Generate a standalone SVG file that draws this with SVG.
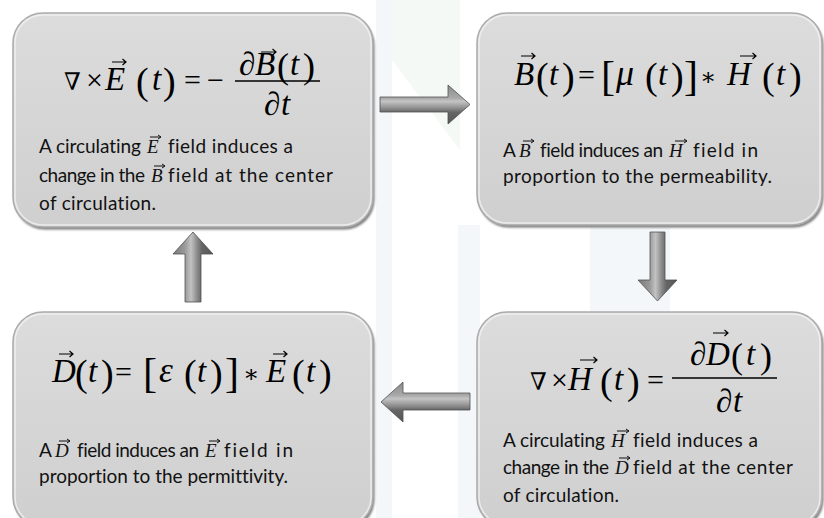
<svg xmlns="http://www.w3.org/2000/svg" width="824" height="518" viewBox="0 0 824 518">
<defs>
<linearGradient id="boxFill" x1="0" y1="0" x2="0" y2="1"><stop offset="0" stop-color="#dcdcdc"/><stop offset="1" stop-color="#cfcfcf"/></linearGradient>
<linearGradient id="arrH" x1="0" y1="0" x2="0" y2="1"><stop offset="0" stop-color="#8a8a8a"/><stop offset="0.33" stop-color="#a8a8a8"/><stop offset="0.42" stop-color="#c4c4c4"/><stop offset="0.6" stop-color="#8c8c8c"/><stop offset="0.7" stop-color="#666"/><stop offset="1" stop-color="#555"/></linearGradient>
<linearGradient id="arrV" x1="0" y1="0" x2="1" y2="0"><stop offset="0" stop-color="#7a7a7a"/><stop offset="0.3" stop-color="#9a9a9a"/><stop offset="0.45" stop-color="#c2c2c2"/><stop offset="0.6" stop-color="#8c8c8c"/><stop offset="0.72" stop-color="#666"/><stop offset="1" stop-color="#555"/></linearGradient>
<filter id="sh" x="-5%" y="-5%" width="110%" height="115%"><feGaussianBlur stdDeviation="1.3"/></filter>
</defs>
<style>
.box{fill:url(#boxFill);stroke:#ababab;stroke-width:1.5}
.shadow{fill:#7b7b7b;filter:url(#sh)}
.hl{fill:none;stroke:#f6f6f6;stroke-width:1.5;opacity:.7}
.eq{font-family:"Liberation Serif","DejaVu Serif",serif;font-size:33px;fill:#000}
.i{font-style:italic}
.sym{font-family:"DejaVu Serif",serif}
.body{font-family:Lato,"Liberation Sans",sans-serif;font-size:19px;fill:#111;font-variant-ligatures:none}
.v{font-family:"Liberation Serif",serif;font-style:italic;font-size:19px;fill:#111}
.vec{fill:none;stroke:#000;stroke-width:1.2}
.vs{fill:none;stroke:#111;stroke-width:1}
.frac{stroke:#000;stroke-width:1.4}
.ah{fill:url(#arrH);stroke:#505050;stroke-width:0.8}
.av{fill:url(#arrV);stroke:#505050;stroke-width:0.8}
.bg{fill:#f4f7f9}
.bg2{fill:#f4f9f6}
</style>
<g id="background">
<rect width="824" height="518" fill="#ffffff"/>
<rect class="bg" x="376" y="0" width="16" height="518"/>
<rect class="bg" x="458" y="225" width="22" height="293"/>
<rect class="bg" x="590" y="225" width="80" height="90"/>
<polygon class="bg2" points="392,0 460,0 460,150 392,60"/>
</g>
<g id="connectors">
<path class="ah" d="M380,97 H448 V85 L470,104.5 L448,124 V112 H380 Z"/>
<path class="av" d="M650,232 H665 V280 H677 L657.5,301 L638,280 H650 Z"/>
<path class="ah" d="M470,393 V410 H403 V422 L381,402 L403,382 V393 Z"/>
<path class="av" d="M185,302 V254 H173 L193,232 L213,254 H201 V302 Z"/>
</g>
<g id="node-faraday">
<rect class="shadow" x="14.5" y="15.5" width="360" height="214" rx="30"/>
<rect class="box" x="13" y="13" width="360" height="214" rx="30"/>
<rect class="hl" x="15" y="15" width="356" height="210" rx="28"/>
<text class="eq">
<tspan class="sym" x="64" y="90" font-size="24">∇</tspan>
<tspan x="86" y="90" font-size="30">×</tspan>
<tspan class="i" x="105" y="90">E</tspan>
<tspan x="136" y="94" font-size="38">(</tspan>
<tspan class="i" x="152" y="90">t</tspan>
<tspan x="163" y="94" font-size="38">)</tspan>
<tspan x="184" y="90" font-size="30">=</tspan>
<tspan x="207" y="90" font-size="30">−</tspan>
<tspan x="239" y="75">∂</tspan>
<tspan class="i" x="255" y="75">B</tspan>
<tspan x="277" y="78" font-size="36">(</tspan>
<tspan class="i" x="290" y="75">t</tspan>
<tspan x="303" y="78" font-size="36">)</tspan>
<tspan x="264" y="115">∂</tspan>
<tspan class="i" x="281" y="115">t</tspan>
</text>
<line class="frac" x1="235" y1="81" x2="320" y2="81"/>
<path class="vec" d="M112 62H126M122.5 59L126 62L122.5 65"/>
<path class="vec" d="M261 52H276M272.5 49L276 52L272.5 55"/>
<text class="body" x="39" y="153" textLength="102">A circulating</text>
<text class="v" x="147" y="153">E</text>
<text class="body" x="168" y="153" textLength="125">field induces a</text>
<path class="vs" d="M150 137H161M158 135L161 137L158 139"/>
<text class="body" x="39" y="182" textLength="106">change in the</text>
<text class="v" x="151" y="182">B</text>
<text class="body" x="168" y="182" textLength="165">field at the center</text>
<path class="vs" d="M154 166H165M162 164L165 166L162 168"/>
<text class="body" x="39" y="210" textLength="117">of circulation.</text>
</g>
<g id="node-permeability">
<rect class="shadow" x="478.5" y="15.5" width="345" height="212" rx="30"/>
<rect class="box" x="477" y="13" width="345" height="212" rx="30"/>
<rect class="hl" x="479" y="15" width="341" height="208" rx="28"/>
<text class="eq">
<tspan class="i" x="514" y="85">B</tspan>
<tspan x="536" y="89" font-size="38">(</tspan>
<tspan class="i" x="549" y="85">t</tspan>
<tspan x="562" y="89" font-size="38">)</tspan>
<tspan x="578" y="85" font-size="30">=</tspan>
<tspan x="601" y="90" font-size="42">[</tspan>
<tspan class="i" x="616" y="85" font-size="36">μ</tspan>
<tspan x="645" y="89" font-size="38">(</tspan>
<tspan class="i" x="658" y="85">t</tspan>
<tspan x="671" y="89" font-size="38">)</tspan>
<tspan x="684" y="90" font-size="42">]</tspan>
<tspan class="sym" x="700" y="85" font-size="24">∗</tspan>
<tspan class="i" x="727" y="85">H</tspan>
<tspan x="762" y="89" font-size="38">(</tspan>
<tspan class="i" x="776" y="85">t</tspan>
<tspan x="789" y="89" font-size="38">)</tspan>
</text>
<path class="vec" d="M521 56H535M531.5 53L535 56L531.5 59"/>
<path class="vec" d="M740 56H756M752.5 53L756 56L752.5 59"/>
<text class="body" x="503" y="157">A</text>
<text class="v" x="519" y="157">B</text>
<path class="vs" d="M523 141H534M531 139L534 141L531 143"/>
<text class="body" x="540" y="157" textLength="123">field induces an</text>
<text class="v" x="669" y="157">H</text>
<path class="vs" d="M675 141H687M684 139L687 141L684 143"/>
<text class="body" x="693" y="157" textLength="65">field in</text>
<text class="body" x="503" y="183" textLength="269">proportion to the permeability.</text>
</g>
<g id="node-ampere">
<rect class="shadow" x="478.5" y="314.5" width="345" height="215" rx="30"/>
<rect class="box" x="477" y="312" width="345" height="215" rx="30"/>
<rect class="hl" x="479" y="314" width="341" height="211" rx="28"/>
<text class="eq">
<tspan class="sym" x="530" y="390" font-size="24">∇</tspan>
<tspan x="551" y="390" font-size="30">×</tspan>
<tspan class="i" x="568" y="390">H</tspan>
<tspan x="600" y="394" font-size="38">(</tspan>
<tspan class="i" x="614" y="390">t</tspan>
<tspan x="627" y="394" font-size="38">)</tspan>
<tspan x="647" y="390" font-size="30">=</tspan>
<tspan x="690" y="365">∂</tspan>
<tspan class="i" x="706" y="365">D</tspan>
<tspan x="731" y="368" font-size="36">(</tspan>
<tspan class="i" x="746" y="365">t</tspan>
<tspan x="760" y="368" font-size="36">)</tspan>
<tspan x="716" y="412">∂</tspan>
<tspan class="i" x="733" y="412">t</tspan>
</text>
<line class="frac" x1="672" y1="378" x2="777" y2="378"/>
<path class="vec" d="M580 360H597M593.5 357L597 360L593.5 363"/>
<path class="vec" d="M713 333H728M724.5 330L728 333L724.5 336"/>
<text class="body" x="503" y="447" textLength="102">A circulating</text>
<text class="v" x="611" y="447">H</text>
<path class="vs" d="M617 431H629M626 429L629 431L626 433"/>
<text class="body" x="633" y="447" textLength="125">field induces a</text>
<text class="body" x="503" y="474" textLength="106">change in the</text>
<text class="v" x="615" y="474">D</text>
<path class="vs" d="M619 458H630M627 456L630 458L627 460"/>
<text class="body" x="633" y="474" textLength="160">field at the center</text>
<text class="body" x="503" y="502" textLength="116">of circulation.</text>
</g>
<g id="node-permittivity">
<rect class="shadow" x="14.5" y="314.5" width="360" height="215" rx="30"/>
<rect class="box" x="13" y="312" width="360" height="215" rx="30"/>
<rect class="hl" x="15" y="314" width="356" height="211" rx="28"/>
<text class="eq">
<tspan class="i" x="52" y="382">D</tspan>
<tspan x="75" y="386" font-size="38">(</tspan>
<tspan class="i" x="88" y="382">t</tspan>
<tspan x="101" y="386" font-size="38">)</tspan>
<tspan x="115" y="382" font-size="30">=</tspan>
<tspan x="143" y="387" font-size="42">[</tspan>
<tspan class="i" x="159" y="382" font-size="35">ε</tspan>
<tspan x="184" y="386" font-size="38">(</tspan>
<tspan class="i" x="197" y="382">t</tspan>
<tspan x="210" y="386" font-size="38">)</tspan>
<tspan x="225" y="387" font-size="42">]</tspan>
<tspan class="sym" x="243" y="382" font-size="24">∗</tspan>
<tspan class="i" x="266" y="382">E</tspan>
<tspan x="292" y="386" font-size="38">(</tspan>
<tspan class="i" x="306" y="382">t</tspan>
<tspan x="319" y="386" font-size="38">)</tspan>
</text>
<path class="vec" d="M59 354H73M69.5 351L73 354L69.5 357"/>
<path class="vec" d="M273 354H287M283.5 351L287 354L283.5 357"/>
<text class="body" x="39" y="457">A</text>
<text class="v" x="55" y="457">D</text>
<path class="vs" d="M59 441H70M67 439L70 441L67 443"/>
<text class="body" x="77" y="457" textLength="122">field induces an</text>
<text class="v" x="205" y="457">E</text>
<path class="vs" d="M209 441H220M217 439L220 441L217 443"/>
<text class="body" x="224" y="457" textLength="69">field in</text>
<text class="body" x="39" y="483" textLength="249">proportion to the permittivity.</text>
</g>
</svg>
